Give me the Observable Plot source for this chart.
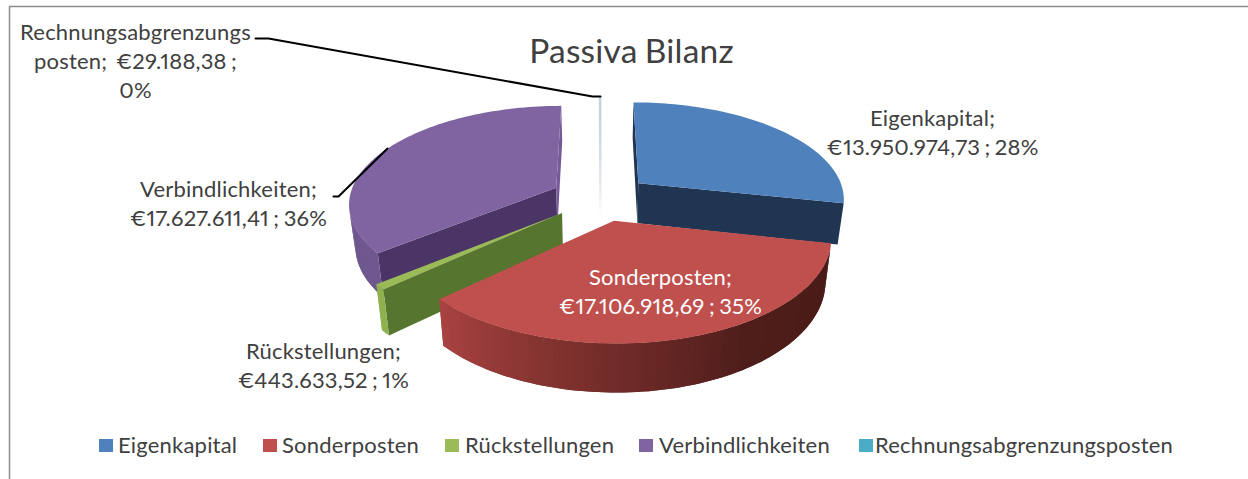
<!DOCTYPE html>
<html><head><meta charset="utf-8">
<script src="https://cdn.jsdelivr.net/npm/d3@7"></script>
<script src="https://cdn.jsdelivr.net/npm/@observablehq/plot@0.6"></script>
<style>
html,body{margin:0;padding:0;background:#fff;overflow:hidden}
#wrap{position:relative;width:1248px;height:479px;font-family:Lato,sans-serif;color:#404040}
#wrap svg{position:absolute;left:0;top:0;background:transparent}
#wrap svg text{letter-spacing:.2px;font-variant-numeric:proportional-nums;word-spacing:-1.5px}
#legend{position:absolute;left:0;top:430px;width:1248px;height:30px;font-size:22px;letter-spacing:.2px}
#legend span{position:absolute;top:0;line-height:30px;white-space:nowrap}
#legend i{position:absolute;top:9px;width:14px;height:13px;display:block}
</style></head><body><div id="wrap"><div id="legend"></div></div>
<script>
const categories = ["Eigenkapital","Sonderposten","Rückstellungen","Verbindlichkeiten","Rechnungsabgrenzungsposten"];
const values = [13950974.73,17106918.69,443633.52,17627611.41,29188.38];
const topColors = ["#4f81bd","#bf504d","#9bbb59","#8064a2","#4bacc6"];
const startFace = ["#1f3552","#5a2320","#56752f","#4a3566","#d0d6dd"];
const endFace = ["#1f3552","#5a2320","#56752f","#76599a","#d0d6dd"];
const rimRamps = [["#2c4d75","#2c4d75"],["#4a1b18","#4f1e1b","#7a2f2c","#a84341"],["#8fb14f","#8fb14f"],["#6f578f","#6f578f"],["#d0d6dd","#d0d6dd"]];
const labelTexts = ["Eigenkapital;\n€13.950.974,73 ; 28%","Sonderposten;\n€17.106.918,69 ; 35%","Rückstellungen;\n€443.633,52 ; 1%","Verbindlichkeiten;\n€17.627.611,41 ; 36%","Rechnungsabgrenzungs\nposten;  €29.188,38 ;\n0%"];
const labelX = [932,660,323,228,135];
const labelY = [131,289.5,363.5,202,59.5];
const labelFill = ["#404040","#ffffff","#404040","#404040","#404040"];
const leaderA = [[255,38],[268,38],[592,96],[600,96]];
const leaderB = [[333,196],[338,196],[387,148]];
const legendSwatch = [99,263,445,639,859];
const legendText = [118,282,465,659,875];

const W=1248,H=479, cx=600, cy=197, A=207, B=96.8, k=0.149, E=0.24;
const rad=d=>d*Math.PI/180;
function proj(X,Y,low){
  const s=1/(1+k*Y); let x=cx+A*X*s, y=cy-B*Y*s;
  if(low){x=cx+(x-cx)*0.975; y=y*1.056+29.8;}
  return [x,y];
}
const shoelace=pts=>d3.sum(pts,(p,i)=>{const q=pts[(i+1)%pts.length];return p[0]*q[1]-q[0]*p[1];});
const total=d3.sum(values);
let acc=0;
const slices=values.map((v,i)=>{const a0=acc/total*360; acc+=v; const a1=acc/total*360; return {i,a0,a1,m:(a0+a1)/2};});
const rows=[], sliver=[]; let pid=0;
function poly(list,pts,color){pid++; for(const p of pts) list.push({id:pid,x:p[0],y:p[1],c:color});}
function drawSlice(s){
  const ox=E*Math.sin(rad(s.m)), oy=E*Math.cos(rad(s.m));
  const P=(a,r,low)=>proj(ox+r*Math.sin(rad(a)),oy+r*Math.cos(rad(a)),low);
  const n=Math.max(1,Math.ceil((s.a1-s.a0)/1.5));
  const ang=d3.range(n+1).map(j=>s.a0+(s.a1-s.a0)*j/n);
  const ramp=d3.scaleLinear().domain(rimRamps[s.i].map((_,j,arr)=>110+(227-110)*j/(arr.length-1))).range(rimRamps[s.i]).clamp(true).interpolate(d3.interpolateRgb);
  const f0=[P(s.a0,0,false),P(s.a0,1,false),P(s.a0,1,true),P(s.a0,0,true)];
  const f1=[P(s.a1,0,false),P(s.a1,1,false),P(s.a1,1,true),P(s.a1,0,true)];
  if(shoelace(f0)<0) poly(rows,f0,startFace[s.i]);
  if(shoelace(f1)>0) poly(rows,f1,endFace[s.i]);
  for(let j=0;j<n;j++){
    const e=Math.min(j+2,n); // each strip overlaps the next so no seam shows
    const q=[P(ang[j],1,false),P(ang[j+1],1,false),P(ang[j+1],1,true),P(ang[j],1,true)];
    if(shoelace(q)<0){
      const ext=[...d3.range(j,e+1).map(m=>P(ang[m],1,false)),...d3.range(e,j-1,-1).map(m=>P(ang[m],1,true))];
      poly(rows,ext,ramp((ang[j]+ang[j+1])/2));
    }
  }
  poly(rows,[P(0,0,false),...ang.map(a=>P(a,1,false))],topColors[s.i]);
}
[3,0,2,1].forEach(i=>drawSlice(slices[i]));
{
  const s=slices[4], ox=E*Math.sin(rad(s.m)), oy=E*Math.cos(rad(s.m));
  const a=proj(ox+Math.sin(rad(s.m)),oy+Math.cos(rad(s.m)),false), b=proj(ox,oy,true);
  const fade=d3.interpolateRgb("#c6d0d9","#ffffff");
  const N=24;
  for(let j=0;j<N;j++) for(const t of [j/N,(j+1)/N]) sliver.push({id:j,x:a[0]+(b[0]-a[0])*t,y:a[1]+(b[1]-a[1])*t,c:fade(Math.pow((j+.5)/N,2))});
}

const labels=labelTexts.map((t,i)=>({t,x:labelX[i],y:labelY[i],f:labelFill[i]}));
const leaders=[...leaderA.map(p=>({id:"a",x:p[0],y:p[1]})),...leaderB.map(p=>({id:"b",x:p[0],y:p[1]}))];
const frame=[{x:9,y:479},{x:9,y:6},{x:1248,y:6}];

const chart=Plot.plot({
  width:W,height:H,margin:0,
  x:{domain:[0,W],range:[0,W],axis:null},
  y:{domain:[0,H],range:[0,H],axis:null},
  color:{type:"identity"},
  marks:[
    Plot.line(frame,{x:"x",y:"y",stroke:"#8c8c8c",strokeWidth:1.5}),
    Plot.line(sliver,{x:"x",y:"y",z:"id",stroke:"c",strokeWidth:2.5,strokeLinecap:"butt"}),
    Plot.line(rows,{x:"x",y:"y",z:"id",fill:"c"}),
    Plot.line(leaders,{x:"x",y:"y",z:"id",stroke:"#000",strokeWidth:2}),
    Plot.text(["Passiva Bilanz"],{x:[631],y:[52],text:d=>d,fontSize:33.5,fill:"#404040",fontFamily:"Lato, sans-serif"}),
    Plot.text(labels,{x:"x",y:"y",text:"t",fill:"f",fontSize:22,lineHeight:1.32,textAnchor:"middle",fontFamily:"Lato, sans-serif"})
  ]
});
const wrap=document.getElementById("wrap");
wrap.insertBefore(chart,wrap.firstChild);
const lg=document.getElementById("legend");
categories.forEach((c,i)=>{
  const sw=document.createElement("i"); sw.style.left=legendSwatch[i]+"px"; sw.style.background=topColors[i]; lg.appendChild(sw);
  const t=document.createElement("span"); t.style.left=legendText[i]+"px"; t.textContent=c; lg.appendChild(t);
});
</script></body></html>
